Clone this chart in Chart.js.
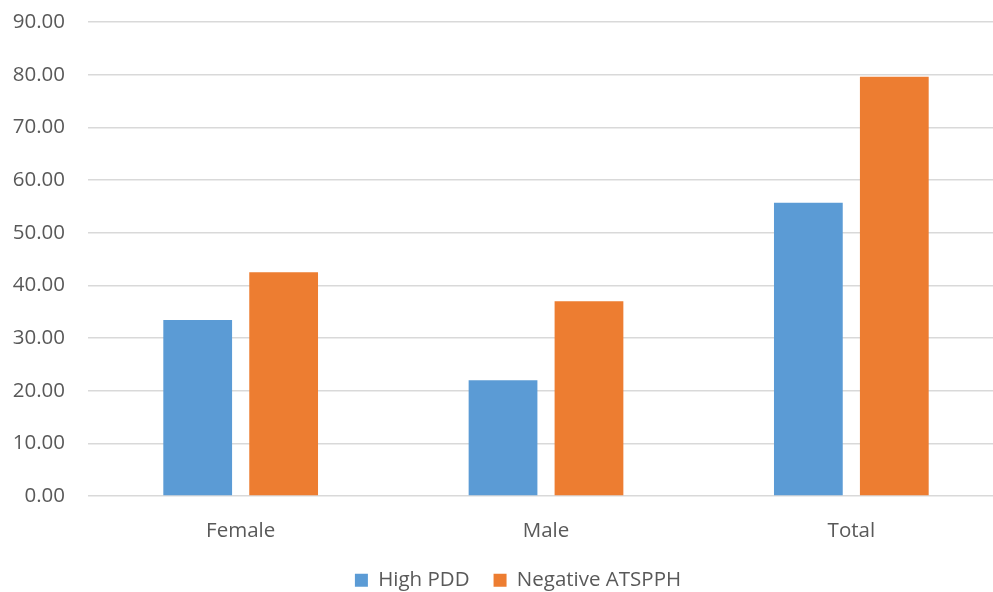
<!DOCTYPE html>
<html>
<head>
<meta charset="utf-8">
<script src="https://cdn.jsdelivr.net/npm/chart.js@4.4.0/dist/chart.umd.min.js"></script>
<style>
  html,body{margin:0;padding:0;background:#fff;overflow:hidden;}
  #wrap{width:1010px;height:592px;position:relative;}
</style>
</head>
<body>
<div id="wrap"><canvas id="chart"></canvas></div>
<script>
// Datos del gráfico
const categories = ['Female', 'Male', 'Total'];
const highPDD = [33.4, 22.0, 55.7];
const negativeATSPPH = [42.5, 37.0, 79.6];
const yTicks = [0, 10, 20, 30, 40, 50, 60, 70, 80, 90];

const fontFamily = '"Open Sans", "Liberation Sans", sans-serif';
const fontSize = 20.5;

// Desplaza la leyenda un poco a la derecha, como en el original
const shiftLegend = {
  id: 'shiftLegend',
  afterLayout(chart){
    if (chart.legend){ chart.legend.left += 16; chart.legend.right += 16; }
  }
};

new Chart(document.getElementById('chart'), {
  type: 'bar',
  data: {
    labels: categories,
    datasets: [
      { label: 'High PDD', data: highPDD, backgroundColor: '#5b9bd5' },
      { label: 'Negative ATSPPH', data: negativeATSPPH, backgroundColor: '#ed7d31' }
    ]
  },
  plugins: [shiftLegend],
  options: {
    responsive: true,
    maintainAspectRatio: false,
    animation: false,
    layout: { padding: { left: 0, right: 6, top: 22, bottom: 0 } },
    datasets: { bar: { categoryPercentage: 0.563, barPercentage: 0.80 } },
    plugins: {
      tooltip: { enabled: false },
      legend: {
        position: 'bottom',
        maxHeight: 46,
        labels: {
          color: '#595959',
          font: { family: fontFamily, size: fontSize },
          boxWidth: 13, boxHeight: 13,
          padding: 24
        }
      }
    },
    scales: {
      x: {
        afterFit: s => { s.height = 50; s.paddingLeft = 0; s.paddingRight = 0; },
        grid: { display: false },
        border: { display: false },
        ticks: { color: '#595959', font: { family: fontFamily, size: fontSize }, padding: 15 }
      },
      y: {
        min: 0, max: 90,
        afterFit: s => { s.width = 88; s.paddingTop = 0; s.paddingBottom = 0; },
        afterBuildTicks: s => { s.ticks = yTicks.map(v => ({ value: v })); },
        border: { display: false },
        grid: { color: '#d9d9d9', lineWidth: 1.5, drawTicks: false },
        ticks: {
          color: '#595959', font: { family: fontFamily, size: fontSize }, padding: 23,
          callback: v => Number(v).toFixed(2)
        }
      }
    }
  }
});
</script>
</body>
</html>
